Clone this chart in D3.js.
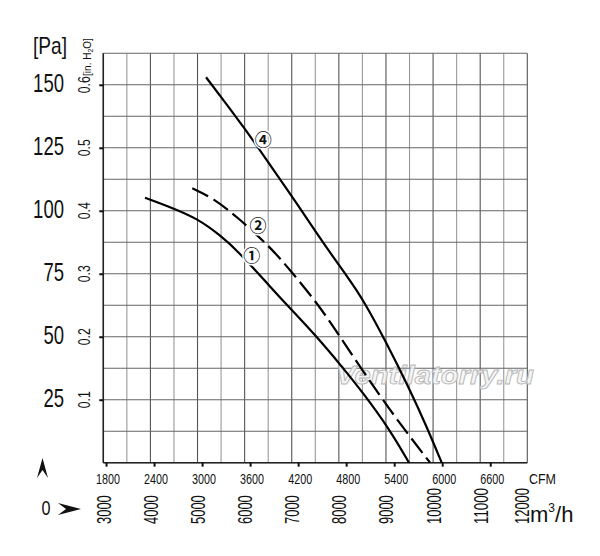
<!DOCTYPE html>
<html><head><meta charset="utf-8">
<script src="https://cdn.jsdelivr.net/npm/d3@7"></script>
<style>
html,body{margin:0;padding:0;background:#fff;}
svg{display:block;}
.nar{font-family:"Liberation Sans","Arial",sans-serif;}
</style></head>
<body>
<script>
// ---- data ----
const paTicks = [25, 50, 75, 100, 125, 150];
const inH2OTicks = [0.1, 0.2, 0.3, 0.4, 0.5, 0.6];
const cfmTicks = [1800, 2400, 3000, 3600, 4200, 4800, 5400, 6000, 6600];
const m3hTicks = [3000, 4000, 5000, 6000, 7000, 8000, 9000, 10000, 11000, 12000];

// curve 1 (solid)
const c1Flow = [3885, 4486, 4983, 5477, 5902, 6539, 6999, 7499, 8094, 8519, 9086, 9489];
const c1Pa   = [105.2, 101, 97, 90.4, 83.2, 69.9, 60.6, 50.7, 37.5, 27.6, 13, 0];
// curve 2 (dashed)
const c2Flow = [4889, 5335, 5832, 6539, 6963, 7557, 8024, 8591, 9086, 9511, 9936];
const c2Pa   = [108.9, 105, 97.7, 85.7, 76.5, 63, 50, 34.1, 20.9, 10.3, 0];
// curve 4 (solid, steep)
const c4Flow = [5180, 5547, 5972, 6468, 7105, 7670, 8201, 8519, 9016, 9474, 9865, 10183];
const c4Pa   = [153, 144, 133.4, 120.2, 103, 87.1, 73.3, 64.6, 47.4, 30.2, 14.3, 0];

const curveLabels = ["①", "②", "④"];
const labelFlow = [6150, 6284, 6396];
const labelPa = [82.5, 94.4, 128.5];

const CFM_TO_M3H = 1.699;

// ---- layout ----
const W = 600, H = 556;
const x0 = 103.3, x1 = 527.3, yTop = 53.3, yBot = 462.7;

const svg = d3.select("body").append("svg").attr("width", W).attr("height", H);

const x = d3.scaleLinear().domain([3000, 12000]).range([x0, x1]);
const yIn = d3.scaleLinear().domain([0, 0.65]).range([yBot, yTop]);
const yPa = d3.scaleLinear().domain([0, 162.5]).range([yBot, yTop]);

// grid
const g = svg.append("g");
const vGrid = d3.range(3000, 12000 + 1, 500);
const hGrid = d3.range(0, 0.65 + 1e-9, 0.05);
g.selectAll("line.v").data(vGrid).join("line")
  .attr("x1", d => x(d)).attr("x2", d => x(d))
  .attr("y1", yTop).attr("y2", yBot)
  .attr("stroke", (d, i) => i % 2 === 0 ? "#555" : "#999").attr("stroke-width", 1.1);
g.selectAll("line.h").data(hGrid).join("line")
  .attr("x1", x0).attr("x2", x1)
  .attr("y1", d => yIn(d)).attr("y2", d => yIn(d))
  .attr("stroke", "#666").attr("stroke-width", 1.1);

// watermark
svg.append("text")
  .attr("x", 435).attr("y", 384)
  .attr("text-anchor", "middle")
  .attr("font-family", "Liberation Sans, Arial, sans-serif")
  .attr("font-style", "italic").attr("font-weight", "bold")
  .attr("font-size", 26)
  .attr("textLength", 198).attr("lengthAdjust", "spacingAndGlyphs")
  .attr("fill", "#f4f4f4").attr("fill-opacity", 0.85)
  .attr("stroke", "#b8b8b8").attr("stroke-width", 0.9)
  .text("Ventilatorry.ru");

// axes lines
svg.append("line").attr("x1", x0).attr("x2", x0).attr("y1", yTop).attr("y2", yBot)
  .attr("stroke", "#222").attr("stroke-width", 1.5);
svg.append("line").attr("x1", x0).attr("x2", x1).attr("y1", yBot).attr("y2", yBot)
  .attr("stroke", "#222").attr("stroke-width", 1.5);

// left axis (inH2O) with ticks
const leftAxis = d3.axisLeft(yIn).tickValues(inH2OTicks).tickSize(4).tickFormat("");
const la = svg.append("g").attr("transform", `translate(${x0},0)`).call(leftAxis);
la.select(".domain").remove();
la.selectAll(".tick line").attr("stroke", "#111").attr("stroke-width", 2);

svg.selectAll("text.inh").data(inH2OTicks).join("text")
  .attr("class", "nar")
  .attr("transform", d => `translate(90,${yIn(d)}) rotate(-90)`)
  .attr("text-anchor", "middle")
  .attr("font-size", 16)
  .attr("textLength", 17).attr("lengthAdjust", "spacingAndGlyphs")
  .attr("fill", "#111")
  .text(d => d.toFixed(1));

svg.append("text").attr("class", "nar")
  .attr("transform", "translate(91,57) rotate(-90)")
  .attr("text-anchor", "middle").attr("font-size", 10).attr("fill", "#111")
  .html('[in. H<tspan font-size="7" dy="2">2</tspan><tspan dy="-2">O]</tspan>');

// Pa labels
svg.selectAll("text.pa").data(paTicks).join("text")
  .attr("class", "nar")
  .attr("x", 64).attr("y", d => yPa(d) + 7)
  .attr("text-anchor", "end")
  .attr("font-size", 25)
  .attr("textLength", d => String(d).length * 10.3).attr("lengthAdjust", "spacingAndGlyphs")
  .attr("fill", "#111")
  .text(d => d);
svg.append("text").attr("class", "nar")
  .attr("x", 33).attr("y", 54).attr("font-size", 24)
  .attr("textLength", 34).attr("lengthAdjust", "spacingAndGlyphs")
  .attr("fill", "#111").text("[Pa]");

// bottom CFM axis
const cfmPos = d => x(d * CFM_TO_M3H);
const bottomAxis = d3.axisBottom(x)
  .tickValues(cfmTicks.map(c => c * CFM_TO_M3H)).tickSize(4).tickFormat("");
const ba = svg.append("g").attr("transform", `translate(0,${yBot})`).call(bottomAxis);
ba.select(".domain").remove();
ba.selectAll(".tick line").attr("stroke", "#111").attr("stroke-width", 2);

svg.selectAll("text.cfm").data(cfmTicks).join("text")
  .attr("class", "nar")
  .attr("x", d => cfmPos(d) + 2).attr("y", 484)
  .attr("text-anchor", "middle").attr("font-size", 15)
  .attr("textLength", 24).attr("lengthAdjust", "spacingAndGlyphs")
  .attr("fill", "#111")
  .text(d => d);
svg.append("text").attr("class", "nar")
  .attr("x", 529).attr("y", 484).attr("font-size", 15)
  .attr("textLength", 27).attr("lengthAdjust", "spacingAndGlyphs")
  .attr("fill", "#111").text("CFM");

// m3/h labels (rotated)
svg.selectAll("text.m3h").data(m3hTicks).join("text")
  .attr("class", "nar")
  .attr("transform", d => `translate(${Math.min(x(d), 521) + 7.5},524) rotate(-90)`)
  .attr("text-anchor", "start").attr("font-size", 21).attr("fill", "#111")
  .attr("textLength", d => String(d).length * 7.2).attr("lengthAdjust", "spacingAndGlyphs")
  .text(d => d);
svg.append("text").attr("class", "nar")
  .attr("x", 530).attr("y", 522).attr("font-size", 22).attr("fill", "#111")
  .html('m<tspan font-size="12" dy="-10">3</tspan><tspan dy="10">/h</tspan>');

// corner markers
svg.append("path").attr("d", "M42.5,458 L48,478 L42.5,470 L37,478 Z").attr("fill", "#111");
svg.append("text").attr("class", "nar").attr("x", 46).attr("y", 515)
  .attr("text-anchor", "middle").attr("font-size", 20)
  .attr("textLength", 9).attr("lengthAdjust", "spacingAndGlyphs")
  .attr("fill", "#111").text("0");
svg.append("path").attr("d", "M58,503 L81,509 L58,515 L66,509 Z").attr("fill", "#111");

// curves
const line = d3.line().x(d => x(d[0])).y(d => yPa(d[1])).curve(d3.curveBasis);
const mk = (f, p) => f.map((v, i) => [v, p[i]]);
svg.append("path").datum(mk(c1Flow, c1Pa)).attr("d", line)
  .attr("fill", "none").attr("stroke", "#000").attr("stroke-width", 2.2);
svg.append("path").datum(mk(c2Flow, c2Pa)).attr("d", line)
  .attr("fill", "none").attr("stroke", "#000").attr("stroke-width", 2.2)
  .attr("stroke-dasharray", "18,6");
svg.append("path").datum(mk(c4Flow, c4Pa)).attr("d", line)
  .attr("fill", "none").attr("stroke", "#000").attr("stroke-width", 2.2);

// curve labels
svg.selectAll("text.cl").data(curveLabels).join("text")
  .attr("x", (d, i) => x(labelFlow[i])).attr("y", (d, i) => yPa(labelPa[i]))
  .attr("text-anchor", "middle").attr("dominant-baseline", "central")
  .attr("font-family", "Noto Sans CJK JP, DejaVu Sans, sans-serif")
  .attr("font-size", 17).attr("font-weight", "bold").attr("fill", "#111")
  .attr("stroke", "#fff").attr("stroke-width", 3).attr("paint-order", "stroke")
  .text(d => d);
</script>
</body></html>
